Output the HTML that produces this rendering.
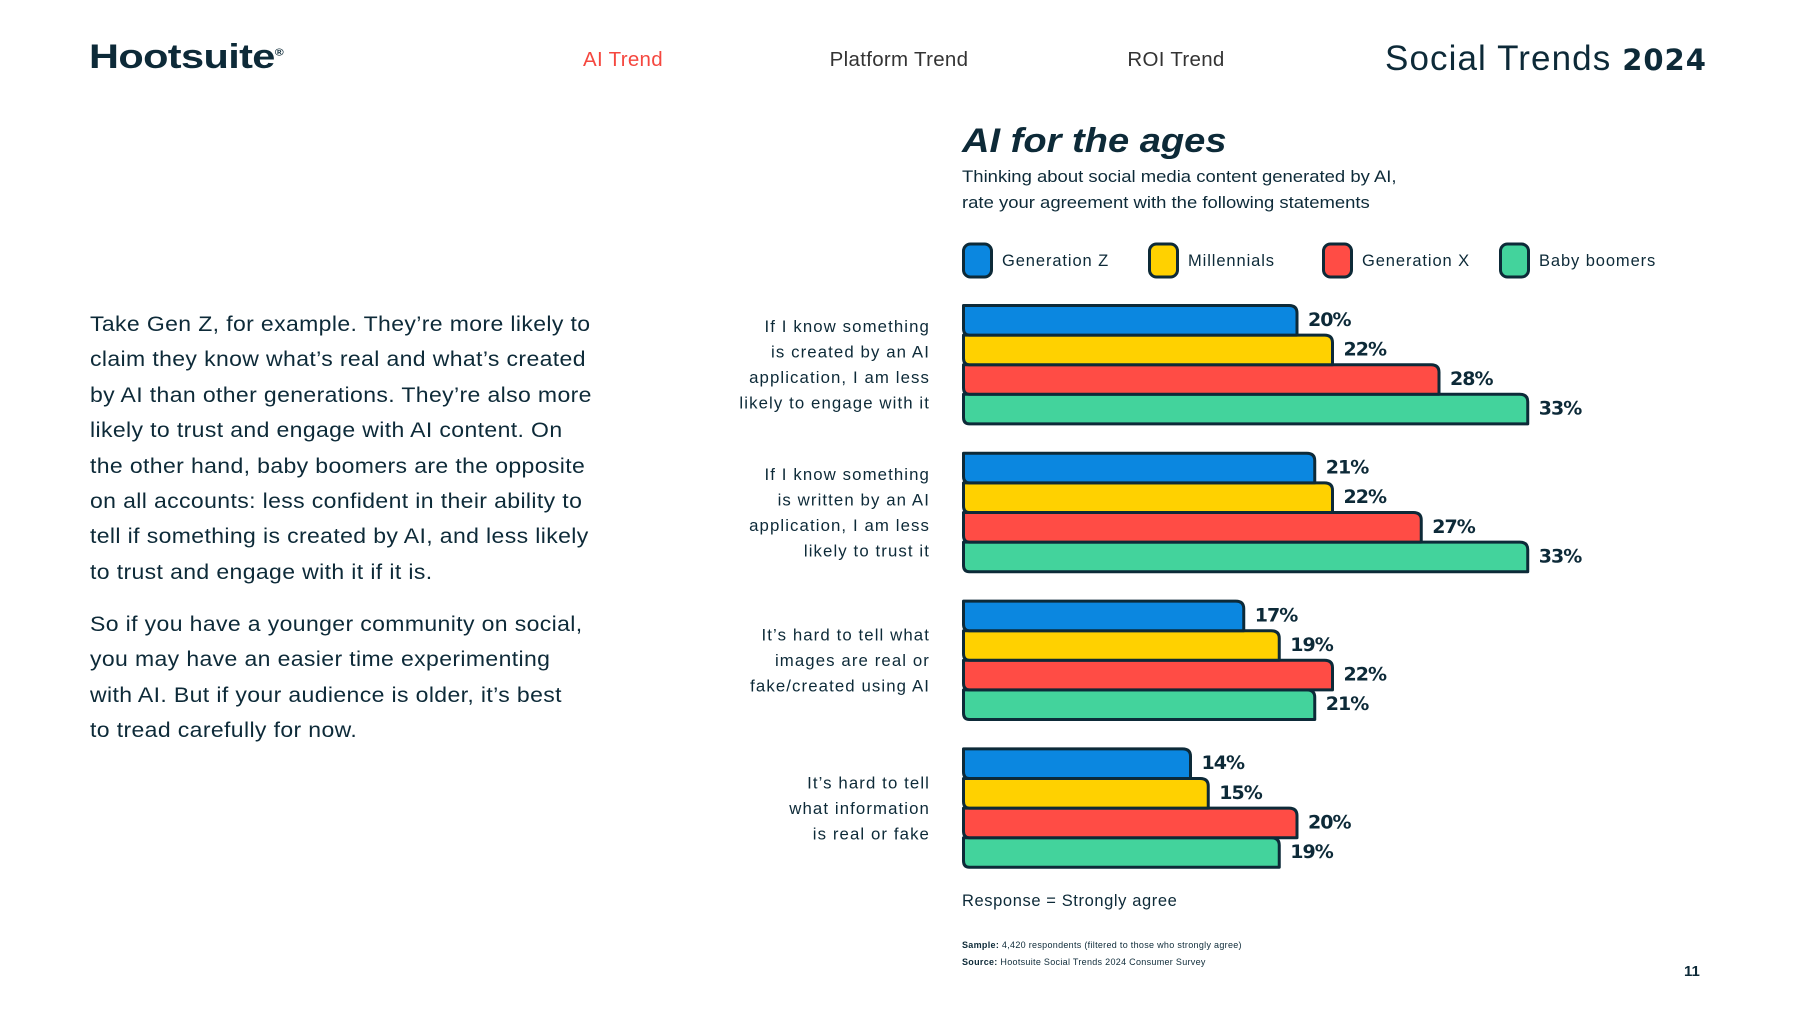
<!DOCTYPE html>
<html><head><meta charset="utf-8">
<style>
*{margin:0;padding:0;box-sizing:border-box}
body{width:1800px;height:1020px;background:#fff;position:relative;overflow:hidden;font-family:"Liberation Sans",sans-serif;color:#0d2a38}
.a{position:absolute;white-space:nowrap}
.nav{font-size:20.5px;top:48px;transform:translateX(-50%);letter-spacing:0.3px}
.para{position:absolute;left:90px;font-size:21.5px;line-height:35.4px;white-space:nowrap;letter-spacing:0.35px;transform:scaleX(1.07);transform-origin:left top}
</style></head><body>
<div class="a" style="left:89px;top:38px;font-size:34px;font-weight:bold;letter-spacing:-0.5px;transform:scaleX(1.22);transform-origin:left">Hootsuite<sup style="font-size:10px">®</sup></div>
<div class="a nav" style="left:623px;color:#f5473f">AI Trend</div>
<div class="a nav" style="left:899px;color:#333">Platform Trend</div>
<div class="a nav" style="left:1176px;color:#333">ROI Trend</div>
<div class="a" style="left:1385px;top:39px;font-size:35px;letter-spacing:1.1px">Social Trends <b style="font-family:'DejaVu Sans';font-size:29px;font-weight:900;letter-spacing:1px">2024</b></div>

<div class="para" style="top:307px">Take Gen Z, for example. They’re more likely to<br>claim they know what’s real and what’s created<br>by AI than other generations. They’re also more<br>likely to trust and engage with AI content. On<br>the other hand, baby boomers are the opposite<br>on all accounts: less confident in their ability to<br>tell if something is created by AI, and less likely<br>to trust and engage with it if it is.</div>
<div class="para" style="top:607px">So if you have a younger community on social,<br>you may have an easier time experimenting<br>with AI. But if your audience is older, it’s best<br>to tread carefully for now.</div>

<div class="a" style="left:962px;top:122px;font-size:34px;font-weight:bold;font-style:italic;transform:scaleX(1.12);transform-origin:left">AI for the ages</div>
<div class="a" style="left:962px;top:165px;font-size:16.5px;line-height:25.5px;transform:scaleX(1.12);transform-origin:left">Thinking about social media content generated by AI,<br>rate your agreement with the following statements</div>
<div class="a" style="left:962px;top:892px;font-size:16.5px;letter-spacing:0.6px">Response = Strongly agree</div>
<div class="a" style="left:962px;top:940px;font-size:9px;letter-spacing:0.3px"><b>Sample:</b> 4,420 respondents (filtered to those who strongly agree)</div>
<div class="a" style="left:962px;top:957px;font-size:9px;letter-spacing:0.3px"><b>Source:</b> Hootsuite Social Trends 2024 Consumer Survey</div>
<div class="a" style="left:1684px;top:963px;font-size:15px;font-weight:bold">11</div>

<svg id="chart" width="1800" height="1020" style="position:absolute;left:0;top:0" xmlns="http://www.w3.org/2000/svg"></svg>
<script>
const series = ["Generation Z","Millennials","Generation X","Baby boomers"];
const colors = ["#0b87e0","#ffd100","#ff4c45","#43d39c"];
const categories = [
 ["If I know something","is created by an AI","application, I am less","likely to engage with it"],
 ["If I know something","is written by an AI","application, I am less","likely to trust it"],
 ["It’s hard to tell what","images are real or","fake/created using AI"],
 ["It’s hard to tell","what information","is real or fake"]
];
const genZ = [20,21,17,14];
const millennials = [22,22,19,15];
const genX = [28,27,22,20];
const boomers = [33,33,21,19];
const values = [genZ, millennials, genX, boomers];

const svg = document.getElementById('chart');
const NS = 'http://www.w3.org/2000/svg';
const x0 = 962, origin = 942, perPct = 17.75;
const xEnd = v => origin + v * perPct;
const groupTop = i => 304 + i * 147.8;
const barH = 29.6;
function mk(tag, attrs){const e=document.createElementNS(NS,tag);for(const k in attrs)e.setAttribute(k,attrs[k]);return e;}

const legX = [962,1148,1322,1499];
series.forEach((s,i)=>{
  const g = mk('g',{});
  
  
  g.appendChild(mk('rect',{x:legX[i]+1.5,y:244,width:28,height:33,rx:7,fill:colors[i],stroke:'#0d2a38','stroke-width':3}));
  const t = mk('text',{x:legX[i]+40,y:266,'font-size':16.5,fill:'#0d2a38','font-family':'Liberation Sans, sans-serif','letter-spacing':0.9});
  t.textContent = s; g.appendChild(t); svg.appendChild(g);
});

categories.forEach((lines,ci)=>{
  const top = groupTop(ci);
  const lab = mk('text',{'text-anchor':'end','font-size':16.8,fill:'#0d2a38','font-family':'Liberation Sans, sans-serif','letter-spacing':1.1});
  
  
  const off = lines.length===4 ? 28 : 41;
  lines.forEach((l,li)=>{const ts=mk('tspan',{x:930,y:top+off+li*25.5});ts.textContent=l;lab.appendChild(ts);});
  svg.appendChild(lab);
  for(let si=series.length-1; si>=0; si--){
    const v = values[si][ci];
    const y = top + si*barH;
    const xe = xEnd(v);
    const r = mk('path',{d:`M${x0+1.5},${y+1.5} H${xe-8} Q${xe},${y+1.5} ${xe},${y+9} V${y+barH+1.5} H${x0+1.5+6} Q${x0+1.5},${y+barH+1.5} ${x0+1.5},${y+barH-5} Z`,fill:colors[si],stroke:'#0d2a38','stroke-width':3,'stroke-linejoin':'round'});
    
    
    svg.appendChild(r);
    const t = mk('text',{x:xe+11,y:y+barH/2+7,'font-size':19,'font-weight':'bold',fill:'#0d2a38','font-family':'DejaVu Sans, sans-serif','letter-spacing':-1});
    
    
    t.textContent = v + '%';
    svg.appendChild(t);
  }
});
</script>
</body></html>
